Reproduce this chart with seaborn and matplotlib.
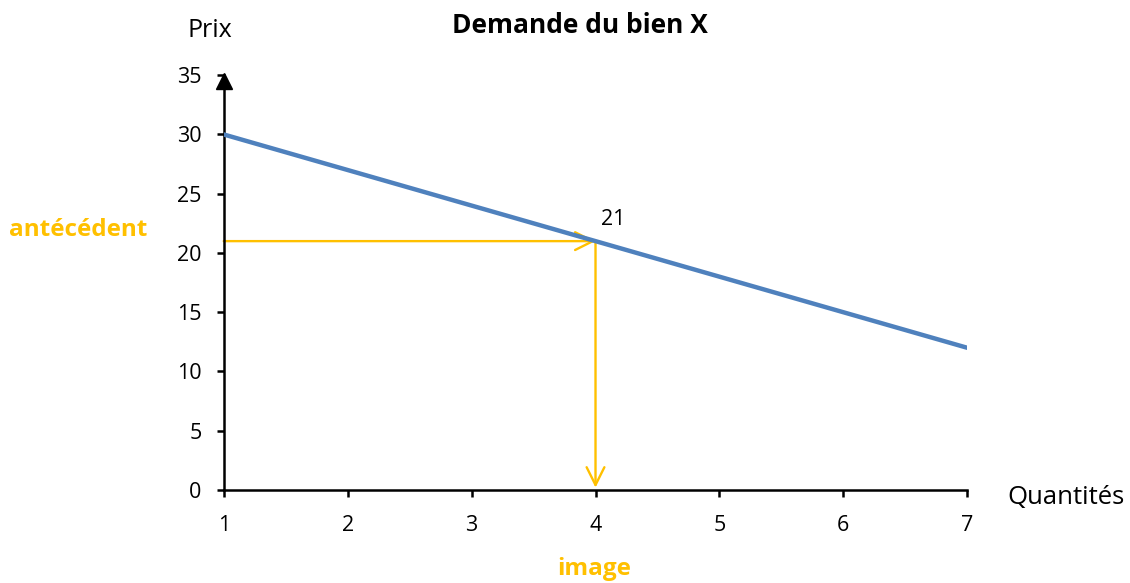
import matplotlib
matplotlib.use("Agg")
import matplotlib.pyplot as plt
import matplotlib.transforms as mtransforms
import seaborn as sns
import pandas as pd

# ── DONNÉES ──
quantites = [1, 2, 3, 4, 5, 6, 7]
prix = [30, 27, 24, 21, 18, 15, 12]
y_ticks = [0, 5, 10, 15, 20, 25, 30, 35]
q_point = 4
p_point = 21

df = pd.DataFrame({"Quantités": quantites, "Prix": prix})

sns.set_style("ticks")
plt.rcParams["font.family"] = ["Open Sans", "DejaVu Sans"]
plt.rcParams["text.color"] = "black"

bleu = "#4F81BD"
jaune = "#FFC000"

fig = plt.figure(figsize=(11.3, 5.83), dpi=100)
ax = fig.add_axes([0.198, 0.1595, 0.658, 0.7115])

sns.lineplot(data=df, x="Quantités", y="Prix", color=bleu, linewidth=3.2, ax=ax, zorder=3)

# flèches jaunes
fleche = dict(arrowstyle="->", color=jaune, lw=1.7, mutation_scale=32, shrinkA=0, shrinkB=0)
ax.annotate("", xy=(q_point, p_point), xytext=(quantites[0], p_point),
            arrowprops=fleche, zorder=2, annotation_clip=False)
ax.annotate("", xy=(q_point, 0.2), xytext=(q_point, p_point),
            arrowprops=fleche, zorder=2, annotation_clip=False)

ax.annotate(str(p_point), xy=(q_point, p_point), xytext=(4, 8), textcoords="offset points",
            fontsize=15.5, ha="left", va="bottom")

ax.set_xlim(1, 7)
ax.set_ylim(0, 35)
ax.set_xticks(quantites)
ax.set_yticks(y_ticks)
ax.set_xlabel("")
ax.set_ylabel("")
sns.despine(ax=ax)
for s in ["left", "bottom"]:
    ax.spines[s].set_linewidth(1.8)
    ax.spines[s].set_color("black")
ax.tick_params(axis="both", length=5, width=1.8, colors="black", labelsize=15.5)
ax.tick_params(axis="x", pad=13)
ax.tick_params(axis="y", pad=11)

# flèche au bout de l'axe des prix
decal = mtransforms.offset_copy(ax.transAxes, fig=fig, y=-6, units="dots")
ax.plot([0], [1.0], marker="^", markersize=12, color="black", transform=decal,
        clip_on=False, zorder=5)

fig.text(0.186, 0.948, "Prix", fontsize=18, ha="center", va="center")
fig.text(0.943, 0.146, "Quantités", fontsize=18.5, ha="center", va="center")
fig.text(0.513, 0.957, "Demande du bien X", fontsize=19, fontweight="bold", ha="center", va="center")
fig.text(0.069, 0.606, "antécédent", fontsize=17.5, fontweight="bold", color=jaune, ha="center", va="center")
fig.text(0.526, 0.024, "image", fontsize=17.5, fontweight="bold", color=jaune, ha="center", va="center")

fig.savefig("out.png", dpi=100)
